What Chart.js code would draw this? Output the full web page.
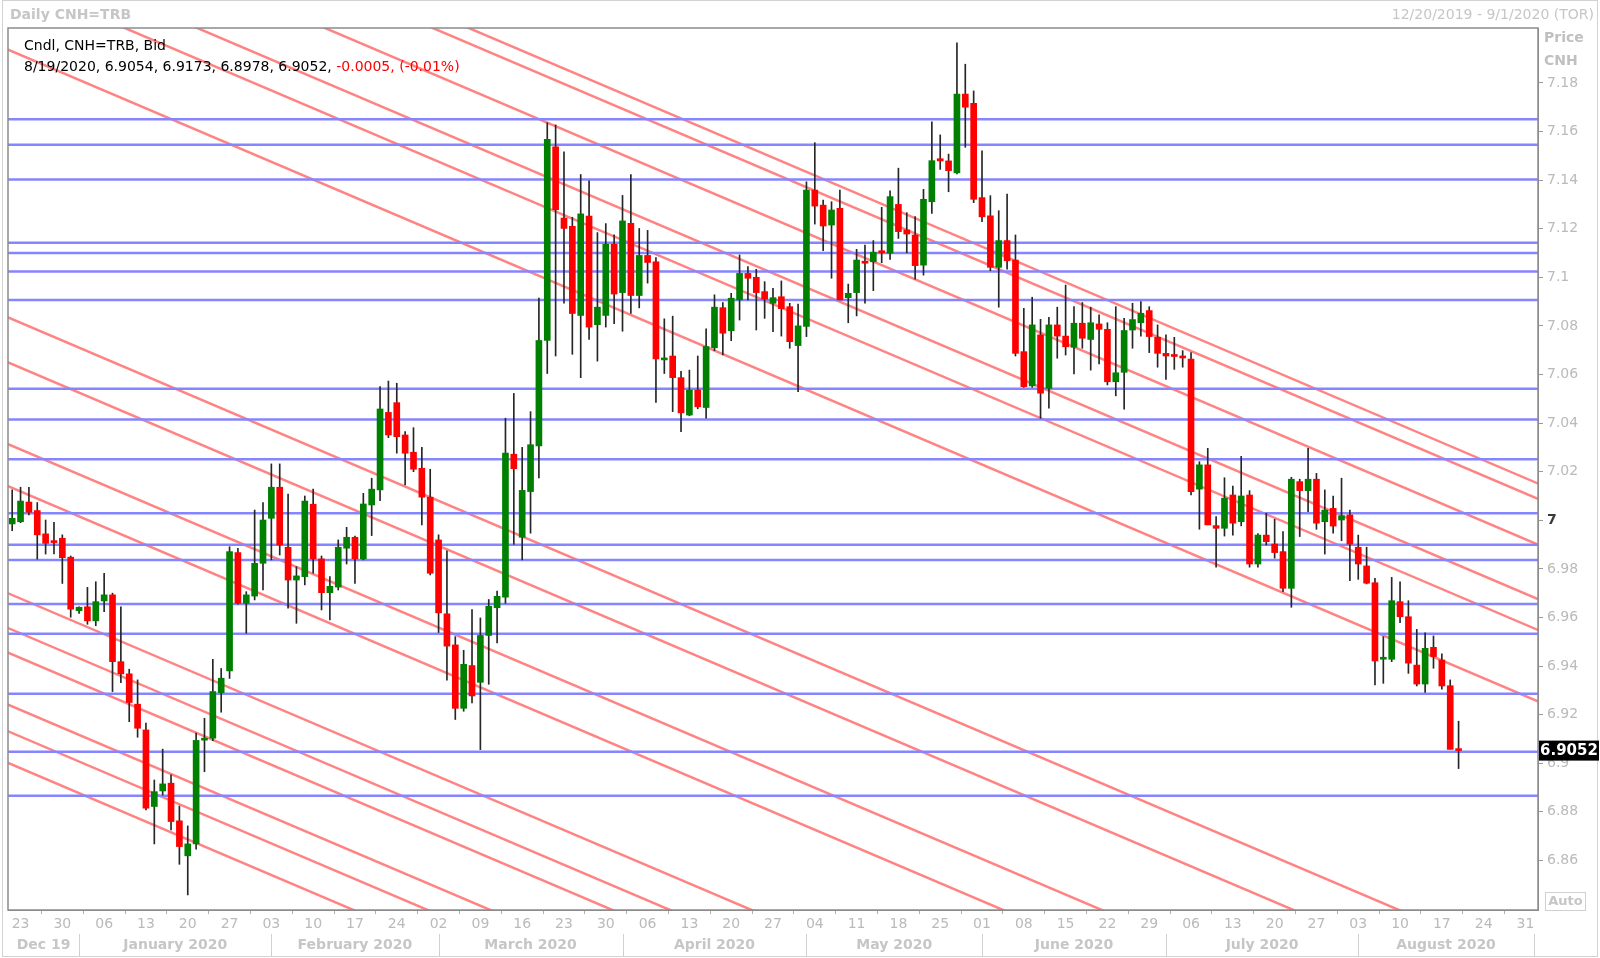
<!DOCTYPE html>
<html>
<head>
<meta charset="utf-8">
<title>Daily CNH=TRB</title>
<script src="https://cdn.jsdelivr.net/npm/chart.js@4.4.1/dist/chart.umd.min.js"></script>
<style>
  html, body { margin: 0; padding: 0; background: #fff; }
  #wrap { width: 1600px; height: 958px; }
</style>
</head>
<body>
<div id="wrap"><canvas id="cnhChart" width="1600" height="958"></canvas></div>
<script>
// axis runs over weekdays from 12/20/2019 to 9/1/2020
const firstDay = "2019-12-20";
const lastDay = "2020-09-01";

// daily candles, Dec 20 2019 .. Aug 19 2020 (one per weekday)
const opens = [
  6.9985, 6.9994, 7.0075, 7.0040, 6.9944, 6.9912, 6.9926, 6.9848, 6.9628, 6.9644, 6.9586,
  6.9668, 6.9693, 6.9418, 6.9368, 6.9243,  6.9137, 6.8822, 6.8886, 6.8918, 6.8763,
  6.8619, 6.8668, 6.9095, 6.9103, 6.9290,  6.9380, 6.9867, 6.9658, 6.9688, 6.9823,
  7.0008, 7.0136, 6.9889, 6.9754, 6.9768,  7.0066, 6.9841, 6.9702, 6.9725, 6.9885,
  6.9930, 6.9841, 7.0063, 7.0125, 7.0444,  7.0484, 7.0351, 7.0280, 7.0214, 7.0095,
  6.9919, 6.9615, 6.9487, 6.9226, 6.9402,  6.9333, 6.9526, 6.9640, 6.9683, 7.0272,
  6.9930, 7.0118, 7.0306, 7.0740, 7.1537,  7.1244, 7.1210, 7.0843, 7.1252, 7.0805,
  7.0843, 7.1136, 7.0937, 7.1222, 7.0925,  7.1090, 7.1064, 7.0660, 7.0676, 7.0587,
  7.0433, 7.0536, 7.0464, 7.0710, 7.0875,  7.0780, 7.0907, 7.1016, 7.1000, 7.0941,
  7.0893, 7.0920, 7.0879, 7.0719, 7.0798,  7.1359, 7.1297, 7.1215, 7.1284, 7.0916,
  7.0937, 7.1063, 7.1064, 7.1108, 7.1099,  7.1300, 7.1195, 7.1174, 7.1050, 7.1311,
  7.1488, 7.1479, 7.1430, 7.1754, 7.1716,  7.1328, 7.1253, 7.1041, 7.1151, 7.1071,
  7.0694, 7.0553, 7.0763, 7.0543, 7.0804,  7.0758, 7.0712, 7.0811, 7.0744, 7.0808,
  7.0786, 7.0570, 7.0609, 7.0783, 7.0813,  7.0863, 7.0753, 7.0687, 7.0678, 7.0672,
  7.0663, 7.0128, 7.0228, 6.9978, 6.9967,  7.0104, 6.9994, 7.0104, 6.9820, 6.9939,
  6.9902, 6.9871, 6.9720, 7.0159, 7.0122,  7.0169, 6.9994, 7.0049, 7.0001, 7.0022,
  6.9889, 6.9812, 6.9743, 6.9428, 6.9428,  6.9665, 6.9603, 6.9404, 6.9326, 6.9477,
  6.9425, 6.9319, 6.9054
];
const highs = [
  7.0125, 7.0136, 7.0136, 7.0073, 7.0001, 6.9992, 6.9940, 6.9853, 6.9644, 6.9724, 6.9747,
  6.9782, 6.9700, 6.9644, 6.9387, 6.9343,  6.9165, 6.8931, 6.9058, 6.8952, 6.8824,
  6.8742, 6.9124, 6.9185, 6.9428, 6.9390,  6.9891, 6.9885, 6.9706, 7.0042, 7.0073,
  7.0232, 7.0232, 7.0108, 6.9809, 7.0100,  7.0128, 6.9853, 6.9768, 6.9919, 6.9971,
  6.9935, 7.0111, 7.0173, 7.0550, 7.0573,  7.0564, 7.0365, 7.0381, 7.0300, 7.0210,
  6.9940, 6.9874, 6.9521, 6.9465, 6.9632,  6.9598, 6.9674, 6.9709, 7.0420, 7.0522,
  7.0300, 7.0447, 7.0914, 7.1636, 7.1627,  7.1516, 7.1247, 7.1423, 7.1397, 7.1184,
  7.1221, 7.1175, 7.1337, 7.1423, 7.1201,  7.1193, 7.1081, 7.0829, 7.0840, 7.0613,
  7.0618, 7.0676, 7.0788, 7.0928, 7.0896,  7.0934, 7.1092, 7.1044, 7.1033, 7.0982,
  7.0955, 7.0985, 7.0893, 7.0890, 7.1393,  7.1554, 7.1318, 7.1311, 7.1359, 7.0972,
  7.1115, 7.1133, 7.1151, 7.1288, 7.1356,  7.1449, 7.1266, 7.1250, 7.1362, 7.1640,
  7.1586, 7.1507, 7.1965, 7.1877, 7.1767,  7.1520, 7.1336, 7.1274, 7.1342, 7.1174,
  7.0872, 7.0918, 7.0827, 7.0835, 7.0877,  7.0968, 7.0879, 7.0896, 7.0877, 7.0845,
  7.0813, 7.0879, 7.0831, 7.0893, 7.0900,  7.0879, 7.0804, 7.0763, 7.0753, 7.0698,
  7.0690, 7.0241, 7.0296, 7.0015, 7.0175,  7.0141, 7.0263, 7.0122, 6.9945, 7.0029,
  7.0004, 6.9953, 7.0177, 7.0169, 7.0296,  7.0193, 7.0125, 7.0100, 7.0173, 7.0042,
  6.9939, 6.9889, 6.9761, 6.9521, 6.9765,  6.9747, 6.9669, 6.9551, 6.9537, 6.9524,
  6.9450, 6.9343, 6.9173
];
const lows = [
  6.9957, 6.9990, 7.0022, 6.9840, 6.9861, 6.9861, 6.9740, 6.9601, 6.9617, 6.9572, 6.9566,
  6.9624, 6.9295, 6.9332, 6.9171, 6.9107,  6.8808, 6.8668, 6.8869, 6.8726, 6.8584,
  6.8458, 6.8646, 6.8965, 6.9093, 6.9210,  6.9349, 6.9655, 6.9535, 6.9672, 6.9713,
  6.9837, 6.9857, 6.9638, 6.9576, 6.9734,  6.9782, 6.9631, 6.9590, 6.9713, 6.9820,
  6.9740, 6.9837, 6.9937, 7.0081, 7.0340,  7.0276, 7.0145, 7.0200, 6.9981, 6.9775,
  6.9538, 6.9342, 6.9180, 6.9214, 6.9248,  6.9056, 6.9325, 6.9495, 6.9658, 6.9901,
  6.9837, 6.9947, 7.0174, 7.0604, 7.0676,  7.0894, 7.0683, 7.0587, 7.0744, 7.0655,
  7.0795, 7.0809, 7.0778, 7.0851, 7.0874,  7.0976, 7.0485, 7.0604, 7.0447, 7.0365,
  7.0430, 7.0459, 7.0420, 7.0698, 7.0680,  7.0739, 7.0824, 7.0907, 7.0783, 7.0831,
  7.0776, 7.0758, 7.0708, 7.0529, 7.0756,  7.1219, 7.1110, 7.0996, 7.0907, 7.0813,
  7.0841, 7.0893, 7.0945, 7.1060, 7.1074,  7.1160, 7.1101, 7.0992, 7.1009, 7.1263,
  7.1444, 7.1352, 7.1425, 7.1535, 7.1307,  7.1229, 7.1027, 7.0877, 7.1033, 7.0676,
  7.0547, 7.0547, 7.0420, 7.0461, 7.0667,  7.0680, 7.0602, 7.0708, 7.0618, 7.0643,
  7.0557, 7.0512, 7.0457, 7.0708, 7.0758,  7.0690, 7.0630, 7.0580, 7.0621, 7.0630,
  7.0104, 6.9963, 6.9981, 6.9807, 6.9935,  6.9939, 6.9977, 6.9807, 6.9807, 6.9898,
  6.9844, 6.9706, 6.9642, 6.9933, 7.0035,  6.9963, 6.9861, 6.9947, 6.9916, 6.9751,
  6.9757, 6.9738, 6.9322, 6.9329, 6.9418,  6.9579, 6.9370, 6.9318, 6.9291, 6.9391,
  6.9305, 6.9058, 6.8978
];
const closes = [
  7.0008, 7.0079, 7.0033, 6.9940, 6.9905, 6.9908, 6.9846, 6.9634, 6.9642, 6.9586, 6.9665,
  6.9693, 6.9418, 6.9368, 6.9250, 6.9144,  6.8815, 6.8883, 6.8915, 6.8760, 6.8657,
  6.8668, 6.9094, 6.9100, 6.9295, 6.9350,  6.9871, 6.9658, 6.9693, 6.9823, 7.0001,
  7.0136, 6.9898, 6.9754, 6.9771, 7.0079,  6.9841, 6.9702, 6.9728, 6.9889, 6.9930,
  6.9841, 7.0067, 7.0128, 7.0458, 7.0351,  7.0344, 7.0276, 7.0210, 7.0095, 6.9782,
  6.9619, 6.9482, 6.9226, 6.9407, 6.9277,  6.9526, 6.9646, 6.9687, 7.0277, 7.0212,
  7.0123, 7.0311, 7.0740, 7.1568, 7.1278,  7.1201, 7.0851, 7.1261, 7.0795, 7.0877,
  7.1136, 7.0931, 7.1232, 7.0925, 7.1090,  7.1061, 7.0664, 7.0668, 7.0587, 7.0442,
  7.0536, 7.0467, 7.0715, 7.0877, 7.0770,  7.0914, 7.1016, 7.0996, 7.0937, 7.0910,
  7.0916, 7.0871, 7.0735, 7.0800, 7.1359,  7.1293, 7.1211, 7.1277, 7.0907, 7.0934,
  7.1071, 7.1058, 7.1103, 7.1101, 7.1332,  7.1188, 7.1178, 7.1048, 7.1321, 7.1480,
  7.1479, 7.1439, 7.1754, 7.1700, 7.1321,  7.1249, 7.1041, 7.1151, 7.1068, 7.0687,
  7.0550, 7.0804, 7.0523, 7.0804, 7.0758,  7.0714, 7.0811, 7.0749, 7.0813, 7.0786,
  7.0570, 7.0607, 7.0781, 7.0826, 7.0852,  7.0756, 7.0687, 7.0676, 7.0674, 7.0668,
  7.0118, 7.0228, 6.9981, 6.9967, 7.0091,  6.9988, 7.0100, 6.9820, 6.9939, 6.9912,
  6.9867, 6.9720, 7.0169, 7.0122, 7.0169,  6.9988, 7.0042, 6.9976, 7.0018, 6.9902,
  6.9820, 6.9741, 6.9421, 6.9432, 6.9669,  6.9603, 6.9412, 6.9326, 6.9473, 6.9439,
  6.9318, 6.9057, 6.9052
];

// price axis
const yTicks = [6.86, 6.88, 6.9, 6.92, 6.94, 6.96, 6.98, 7, 7.02, 7.04, 7.06, 7.08, 7.1, 7.12, 7.14, 7.16, 7.18];
const yMin = 6.8396;
const yMax = 7.2026;

// horizontal support / resistance levels (blue)
const supportLevels = [7.1650, 7.1545, 7.1402, 7.1142, 7.1100, 7.1024, 7.0907, 7.0541, 7.0415,
  7.0251, 7.0029, 6.9899, 6.9836, 6.9655, 6.9533, 6.9286, 6.9047, 6.8866];

// falling trend lines (red): price one day before the first and one day after the last axis day
const trendStart = [7.2841, 7.2778, 7.2589, 7.2365, 7.2238, 7.1944, 7.0842, 7.0657,
  7.0321, 7.0148, 6.9707, 6.9564, 6.9463, 6.9249, 6.9139, 6.9009];
const trendEnd = [7.0144, 7.0081, 6.9892, 6.9668, 6.9541, 6.9247, 6.8145, 6.7960,
  6.7624, 6.7451, 6.7010, 6.6867, 6.6766, 6.6552, 6.6442, 6.6312];

const monthLabels = ["Dec 19", "January 2020", "February 2020", "March 2020", "April 2020",
  "May 2020", "June 2020", "July 2020", "August 2020"];

const FONT = '"DejaVu Sans", "Liberation Sans", sans-serif';
const GREEN = "#008000";
const RED = "#ff0000";
const AXIS_TEXT = "#bababa";

// weekday calendar for the x axis
const days = [];
for (let d = new Date(firstDay + "T12:00:00Z"); d <= new Date(lastDay + "T12:00:00Z"); d.setUTCDate(d.getUTCDate() + 1)) {
  const wd = d.getUTCDay();
  if (wd !== 0 && wd !== 6) days.push(new Date(d));
}
const mondays = [];
const monthStarts = [];
days.forEach((d, i) => {
  if (d.getUTCDay() === 1) mondays.push(i);
  if (i > 0 && d.getUTCMonth() !== days[i - 1].getUTCMonth()) monthStarts.push(i);
});

const lastIdx = closes.length - 1;
const lastPrice = closes[lastIdx];

const bodyColors = opens.map((o, i) => (closes[i] > o ? GREEN : RED));

const datasets = [];

// candle bodies
datasets.push({
  type: "bar",
  data: opens.map((o, i) => ({ x: i, y: [o, closes[i]] })),
  backgroundColor: bodyColors,
  borderWidth: 0,
  barThickness: 6,
  minBarLength: 2,
  grouped: false,
  order: 0
});
// wicks
datasets.push({
  type: "bar",
  data: lows.map((l, i) => ({ x: i, y: [l, highs[i]] })),
  backgroundColor: "#262626",
  borderWidth: 0,
  barThickness: 1,
  grouped: false,
  order: 1
});
// horizontal levels
supportLevels.forEach((v) => {
  datasets.push({
    type: "line",
    data: [{ x: -1, y: v }, { x: days.length, y: v }],
    borderColor: "#8585ff",
    borderWidth: 2.5,
    pointRadius: 0,
    clip: 0,
    order: 2
  });
});
// trend lines
trendStart.forEach((v, k) => {
  datasets.push({
    type: "line",
    data: [{ x: -1, y: v }, { x: days.length, y: trendEnd[k] }],
    borderColor: "rgba(255, 118, 118, 0.9)",
    borderWidth: 2.5,
    pointRadius: 0,
    clip: 0,
    order: 3
  });
});

const decor = {
  id: "decor",
  beforeDraw(chart) {
    const c = chart.ctx;
    c.save();
    c.fillStyle = "#fff";
    c.fillRect(0, 0, chart.width, chart.height);
    c.restore();
  },
  afterDraw(chart) {
    const c = chart.ctx;
    const a = chart.chartArea;
    const xs = chart.scales.x;
    const ys = chart.scales.y;
    c.save();

    // plot frame and outer frame
    c.strokeStyle = "#8c8c8c";
    c.lineWidth = 1.5;
    c.strokeRect(a.left, a.top, a.right - a.left, a.bottom - a.top);
    c.strokeStyle = "#d2d2d2";
    c.lineWidth = 1;
    c.strokeRect(2.5, 0.5, 1595, 956);

    // header
    c.textBaseline = "middle";
    c.fillStyle = "#c6c6c6";
    c.textAlign = "left";
    c.font = "bold 14px " + FONT;
    c.fillText("Daily CNH=TRB", 10, 15);
    c.font = "14px " + FONT;
    c.textAlign = "right";
    c.fillText("12/20/2019 - 9/1/2020 (TOR)", 1594, 15);

    // axis title
    c.textAlign = "left";
    c.font = "bold 14px " + FONT;
    c.fillStyle = "#c0c0c0";
    c.fillText("Price", 1544, 38);
    c.fillText("CNH", 1544, 61);

    // legend inside the plot
    const d = days[lastIdx];
    const chg = lastPrice - closes[lastIdx - 1];
    const pct = (chg / closes[lastIdx - 1]) * 100;
    const head = (d.getUTCMonth() + 1) + "/" + d.getUTCDate() + "/" + d.getUTCFullYear() + ", " +
      [opens[lastIdx], highs[lastIdx], lows[lastIdx], closes[lastIdx]].map((v) => v.toFixed(4)).join(", ") + ", ";
    const tail = chg.toFixed(4) + ", (" + pct.toFixed(2) + "%)";
    c.font = "14px " + FONT;
    c.fillStyle = "#000";
    c.fillText("Cndl, CNH=TRB, Bid", 24, 46);
    c.fillText(head, 24, 67);
    const w = c.measureText(head).width;
    c.fillStyle = "#ff0000";
    c.fillText(tail, 24 + w, 67);

    // month row
    const bounds = [a.left].concat(monthStarts.map((i) => xs.getPixelForValue(i)));
    c.strokeStyle = "#d0d0d0";
    c.lineWidth = 1;
    monthStarts.forEach((i) => {
      const px = Math.round(xs.getPixelForValue(i)) + 0.5;
      c.beginPath();
      c.moveTo(px, 934);
      c.lineTo(px, 956);
      c.stroke();
    });
    c.font = "bold 14px " + FONT;
    c.fillStyle = "#c6c6c6";
    c.textAlign = "center";
    monthLabels.forEach((m, k) => {
      c.fillText(m, (bounds[k] + bounds[k + 1]) / 2, 945);
    });

    // last price tag
    const py = ys.getPixelForValue(lastPrice);
    c.fillStyle = "#000";
    c.fillRect(a.right + 1, py - 10, 60, 20);
    c.fillStyle = "#fff";
    c.font = "bold 15px " + FONT;
    c.textAlign = "left";
    c.fillText(lastPrice.toFixed(4), a.right + 2, py + 1);

    // Auto button
    c.strokeStyle = "#d0d0d0";
    c.strokeRect(1545.5, 892.5, 40, 18);
    c.fillStyle = "#c6c6c6";
    c.font = "bold 13px " + FONT;
    c.textAlign = "center";
    c.fillText("Auto", 1565.5, 902);

    c.restore();
  }
};

new Chart(document.getElementById("cnhChart"), {
  type: "bar",
  data: { datasets: datasets },
  options: {
    responsive: false,
    animation: false,
    devicePixelRatio: 1,
    events: [],
    layout: { padding: { top: 28, left: 8, right: 0, bottom: 0 } },
    plugins: {
      legend: { display: false },
      tooltip: { enabled: false }
    },
    scales: {
      x: {
        type: "linear",
        offset: false,
        min: -0.5,
        max: days.length - 0.5,
        afterFit(scale) { scale.height = 48; },
        afterBuildTicks(scale) { scale.ticks = mondays.map((i) => ({ value: i })); },
        grid: { drawOnChartArea: false, tickLength: 4, color: "#b0b0b0" },
        border: { display: true, color: "#8c8c8c" },
        ticks: {
          autoSkip: false,
          maxRotation: 0,
          padding: 2,
          color: AXIS_TEXT,
          font: { family: FONT, size: 14 },
          callback: (v) => String(days[v].getUTCDate()).padStart(2, "0")
        }
      },
      y: {
        type: "linear",
        position: "right",
        min: yMin,
        max: yMax,
        afterFit(scale) { scale.width = 62; },
        afterBuildTicks(scale) { scale.ticks = yTicks.map((v) => ({ value: v })); },
        grid: { drawOnChartArea: false, tickLength: 5, color: "#9a9a9a" },
        border: { display: true, color: "#8c8c8c" },
        ticks: {
          padding: 4,
          color: (ctx) => (ctx.tick && ctx.tick.value === 7 ? "#3a3a3a" : AXIS_TEXT),
          font: (ctx) => ({ family: FONT, size: 14, weight: ctx.tick && ctx.tick.value === 7 ? "bold" : "normal" }),
          callback: (v) => String(+v.toFixed(2))
        }
      }
    }
  },
  plugins: [decor]
});
</script>
</body>
</html>
